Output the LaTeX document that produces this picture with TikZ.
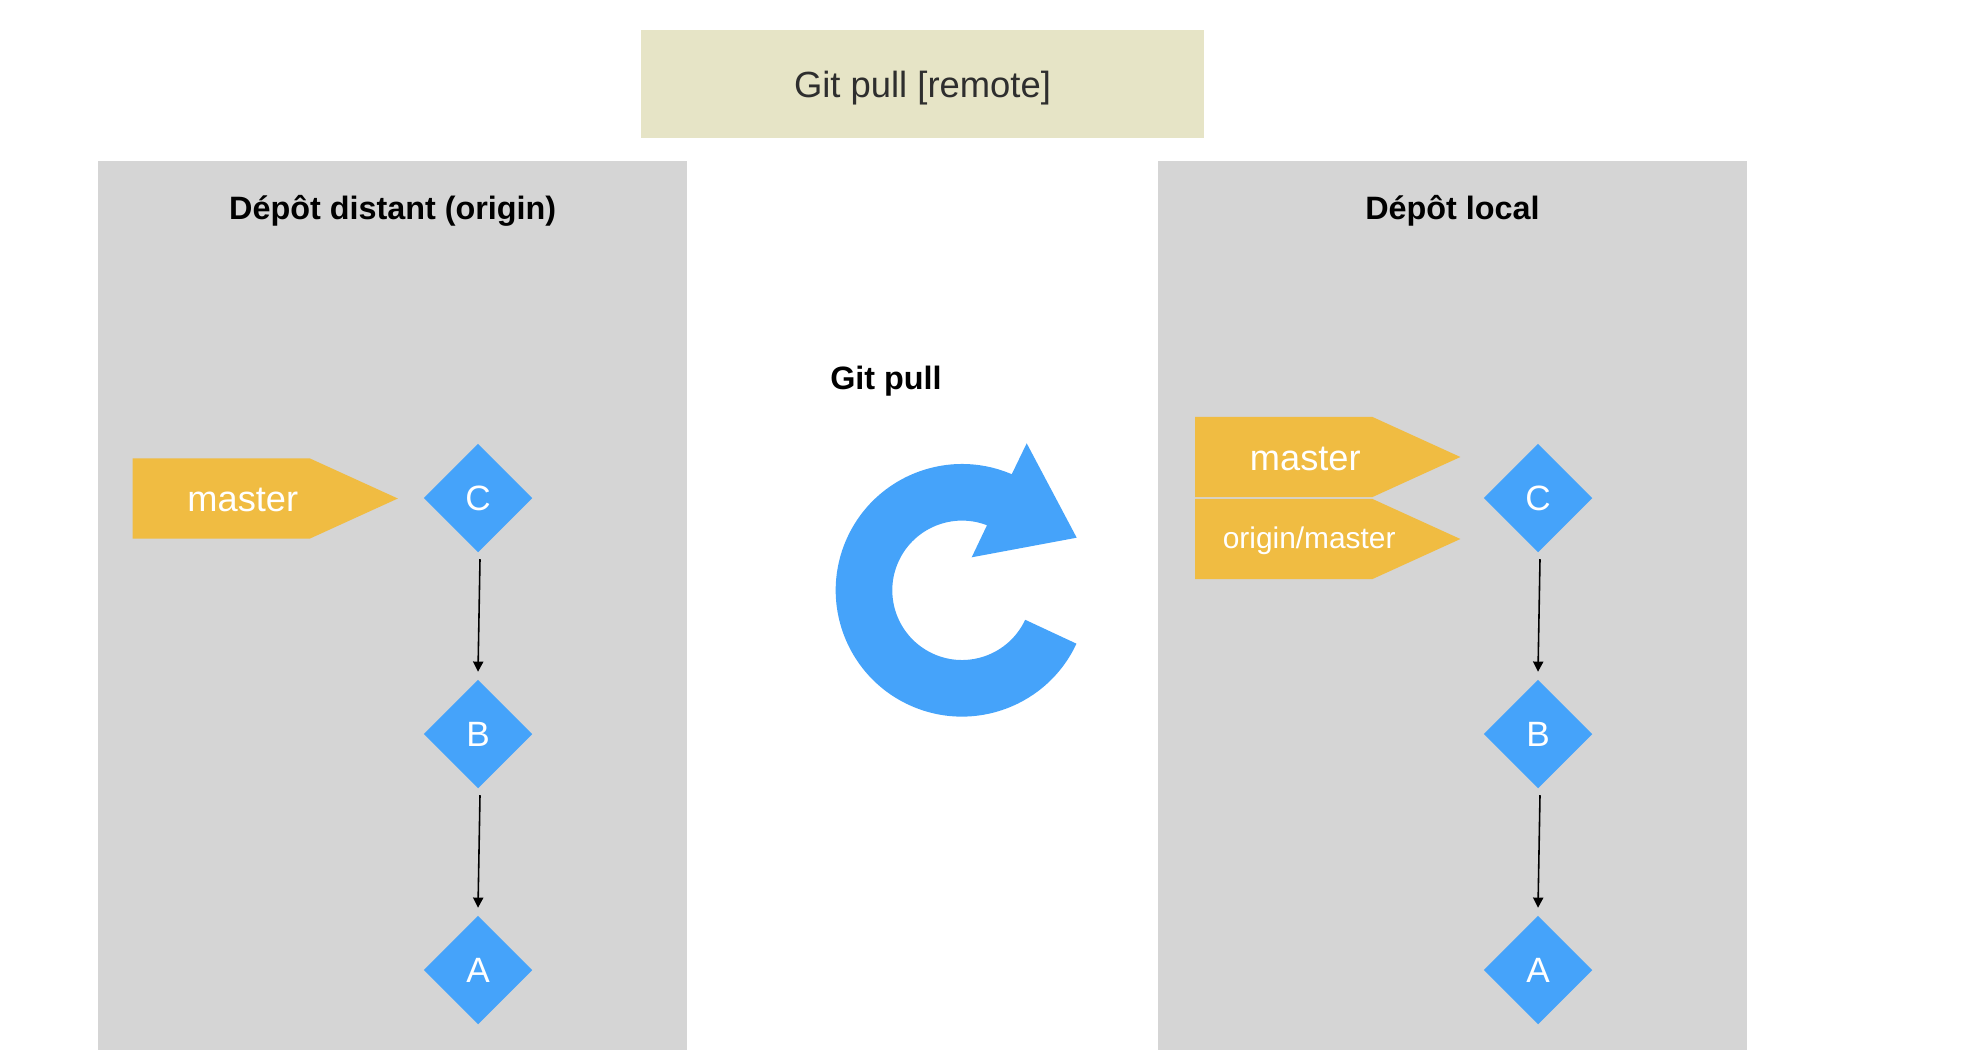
\documentclass[tikz,border=0pt]{standalone}
\usepackage{fontspec}
\setmainfont{Liberation Sans}
\usetikzlibrary{calc,positioning,shapes.geometric,shapes.symbols,arrows.meta}
\definecolor{panelgray}{HTML}{D5D5D5}
\definecolor{commitblue}{HTML}{45A3FA}
\definecolor{flagorange}{HTML}{F0BC42}
\definecolor{headbeige}{HTML}{E6E4C6}
\begin{document}
\begin{tikzpicture}[x=0.01cm,y=0.01cm]
\tikzstyle{vtx}=[diamond, fill=commitblue, text=white, inner sep=0pt, minimum width=1.09cm, minimum height=1.09cm, font=\fontsize{10}{12}\selectfont]
\tikzstyle{panel}=[fill=panelgray, inner sep=0pt, minimum width=5.89cm, minimum height=8.89cm]
\tikzstyle{paneltitle}=[inner sep=0pt, font=\fontsize{9.2}{11}\selectfont\bfseries]
\tikzstyle{flag}=[signal, signal to=east, signal pointer angle=49, fill=flagorange, text=white, inner sep=0pt, minimum width=2.65cm, minimum height=0.8cm, anchor=west, text depth=0pt]
\tikzstyle{conn}=[-{Triangle[width=2.9pt,length=2.9pt]}, line width=0.45pt]
\useasboundingbox (0,0) rectangle (1978,1050);
\node[fill=headbeige, text=black!82, minimum width=5.62cm, minimum height=1.08cm, inner sep=0pt, text height=7.4pt, text depth=0pt, font=\fontsize{10.35}{13}\selectfont] (head) at (922.5,966) {Git pull [remote]};
\node[panel] (panelL) at (392.7,444.5) {};
\node[panel] (panelR) at (1452.5,444.5) {};
\node[paneltitle, below=0.345cm of panelL.north] (titleL) {Dépôt distant (origin)};
\node[paneltitle, below=0.345cm of panelR.north] (titleR) {Dépôt local};
\node[paneltitle] (pull) at (886,669) {Git pull};
% commits
\foreach \x/\s in {478/L,1538/R}{
\foreach \n/\y in {C/552,B/316,A/80}{
\node[vtx] (\n\s) at (\x,\y){\n};
}
\draw[conn] ([shift={(2,-6)}]C\s.south) -- ([shift={(0,7)}]B\s.north);
\draw[conn] ([shift={(2,-6)}]B\s.south) -- ([shift={(0,7)}]A\s.north);
}
% branches
\node[flag, text height=7.6pt, font=\fontsize{10.3}{12}\selectfont] (masterL) at (132,551.5){\hspace{12.2pt}master};
\node[flag, text height=7.6pt, font=\fontsize{10.3}{12}\selectfont] (masterR) at (1194.5,593){\hspace{12.2pt}master};
\node[flag, text height=5.6pt, font=\fontsize{8.5}{11}\selectfont] (originR) at (1194.5,511){\hspace{14.4pt}\makebox[0pt]{origin/master}};
% pull arrow
\fill[commitblue] (1026.7,606.7) -- ($(962,459.7)+(66.8:126.3)$) arc (66.8:335:126.3)
  -- ($(962,459.7)+(335:69.7)$) arc (335:69:69.7)
  -- (971.7,492.7) -- (1076.7,512.3) -- cycle;
\end{tikzpicture}
\end{document}
